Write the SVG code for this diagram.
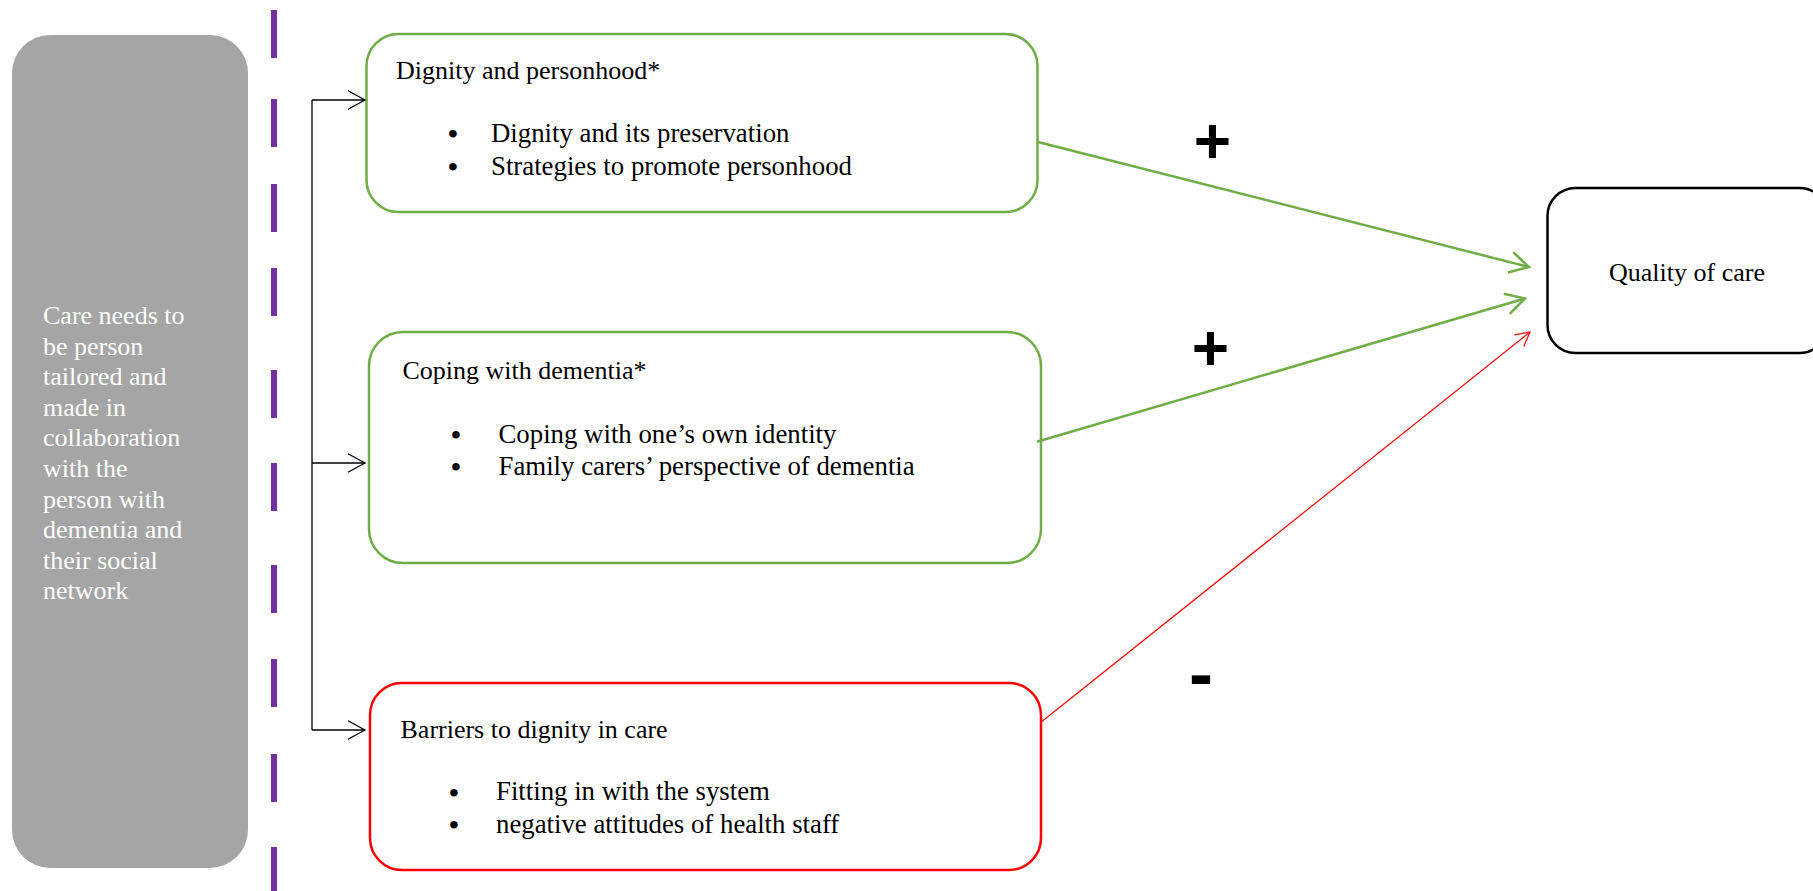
<svg xmlns="http://www.w3.org/2000/svg" width="1813" height="891" viewBox="0 0 1813 891">
<style>
.t{font-family:"Liberation Serif","Times New Roman",serif;font-size:26px;fill:#000}
.li{font-family:"Liberation Serif","Times New Roman",serif;font-size:26.8px;fill:#000}
.w{font-family:"Liberation Serif","Times New Roman",serif;font-size:26px;fill:#fff}
.b{font-family:"Liberation Serif","Times New Roman",serif;font-size:28px;font-weight:bold;fill:#000;text-anchor:middle}
.sign{font-family:"Liberation Sans",Arial,sans-serif;font-weight:bold;fill:#000;text-anchor:middle}
.dash{stroke:#7030A0;stroke-width:6}
.blk{stroke:#000;stroke-width:1.3;fill:none}
</style>
<defs>
<marker id="ab" markerUnits="userSpaceOnUse" markerWidth="30" markerHeight="30" viewBox="-20 -15 30 30" refX="0" refY="0" orient="auto">
<path d="M-17,-9.3 L0,0 L-17,9.3" fill="none" stroke="#000" stroke-width="1.3"/>
</marker>
<marker id="ag" markerUnits="userSpaceOnUse" markerWidth="40" markerHeight="40" viewBox="-25 -20 40 40" refX="0" refY="0" orient="auto">
<path d="M-19,-10.5 L0,0 L-19,10.5" fill="none" stroke="#70AD47" stroke-width="2.5"/>
</marker>
<marker id="ar" markerUnits="userSpaceOnUse" markerWidth="30" markerHeight="30" viewBox="-20 -15 30 30" refX="0" refY="0" orient="auto">
<path d="M-14,-7.5 L0,0 L-14,7.5" fill="none" stroke="#FF0000" stroke-width="1.2"/>
</marker>
</defs>
<g id="divider">
<line class="dash" x1="274" y1="10" x2="274" y2="58"/>
<line class="dash" x1="274" y1="99" x2="274" y2="147"/>
<line class="dash" x1="274" y1="184" x2="274" y2="232"/>
<line class="dash" x1="274" y1="268" x2="274" y2="316"/>
<line class="dash" x1="274" y1="370" x2="274" y2="418"/>
<line class="dash" x1="274" y1="463" x2="274" y2="511"/>
<line class="dash" x1="274" y1="565" x2="274" y2="613"/>
<line class="dash" x1="274" y1="659" x2="274" y2="707"/>
<line class="dash" x1="274" y1="754" x2="274" y2="802"/>
<line class="dash" x1="274" y1="847" x2="274" y2="891"/>
</g>
<g id="context">
<rect x="12" y="35" width="236" height="833" rx="38" fill="#A5A5A5"/>
<text class="w" x="43">
<tspan x="43" y="324">Care needs to</tspan>
<tspan x="43" y="354.6">be person</tspan>
<tspan x="43" y="385.2">tailored and</tspan>
<tspan x="43" y="415.8">made in</tspan>
<tspan x="43" y="446.4">collaboration</tspan>
<tspan x="43" y="477">with the</tspan>
<tspan x="43" y="507.6">person with</tspan>
<tspan x="43" y="538.2">dementia and</tspan>
<tspan x="43" y="568.8">their social</tspan>
<tspan x="43" y="599.4">network</tspan>
</text>
</g>
<g id="dignity">
<rect x="366.5" y="34" width="671" height="178" rx="32" fill="#fff" stroke="#70AD47" stroke-width="2.5"/>
<text class="t" x="396" y="79">Dignity and personhood*</text>
<text class="b"><tspan x="453" y="142.5">•</tspan><tspan x="453" y="175.5">•</tspan></text>
<text class="li"><tspan x="491" y="142">Dignity and its preservation</tspan><tspan x="491" y="175">Strategies to promote personhood</tspan></text>
</g>
<g id="coping">
<rect x="369" y="332" width="672" height="231" rx="34" fill="#fff" stroke="#70AD47" stroke-width="2.5"/>
<text class="t" x="402.5" y="379">Coping with dementia*</text>
<text class="b"><tspan x="456" y="443.5">•</tspan><tspan x="456" y="475.5">•</tspan></text>
<text class="li"><tspan x="498.5" y="443">Coping with one’s own identity</tspan><tspan x="498.5" y="475">Family carers’ perspective of dementia</tspan></text>
</g>
<g id="barriers">
<rect x="370" y="683" width="671" height="187" rx="32" fill="#fff" stroke="#FF0000" stroke-width="2.5"/>
<text class="t" x="400.5" y="738">Barriers to dignity in care</text>
<text class="b"><tspan x="454" y="801.5">•</tspan><tspan x="454" y="834">•</tspan></text>
<text class="li"><tspan x="496" y="800">Fitting in with the system</tspan><tspan x="496" y="833">negative attitudes of health staff</tspan></text>
</g>
<g id="quality">
<rect x="1547.5" y="188" width="280" height="165" rx="28" fill="#fff" stroke="#000" stroke-width="2.5"/>
<text class="t" x="1687" y="281" text-anchor="middle">Quality of care</text>
</g>
<g id="connectors">
<line class="blk" x1="312" y1="100" x2="312" y2="730"/>
<line class="blk" x1="312" y1="100" x2="365" y2="100" marker-end="url(#ab)"/>
<line class="blk" x1="312" y1="463" x2="365" y2="463" marker-end="url(#ab)"/>
<line class="blk" x1="312" y1="730" x2="365" y2="730" marker-end="url(#ab)"/>
<line x1="1037" y1="141.7" x2="1529" y2="267" stroke="#70AD47" stroke-width="2.5" marker-end="url(#ag)"/>
<line x1="1037" y1="441.7" x2="1525" y2="298.5" stroke="#70AD47" stroke-width="2.5" marker-end="url(#ag)"/>
<line x1="1040" y1="723" x2="1530" y2="332" stroke="#FF0000" stroke-width="1.2" marker-end="url(#ar)"/>
</g>
<g id="signs">
<text class="sign" x="1212.5" y="163" font-size="64">+</text>
<text class="sign" x="1210.5" y="369.5" font-size="64">+</text>
<text class="sign" x="1201" y="698" font-size="72">-</text>
</g>
</svg>
